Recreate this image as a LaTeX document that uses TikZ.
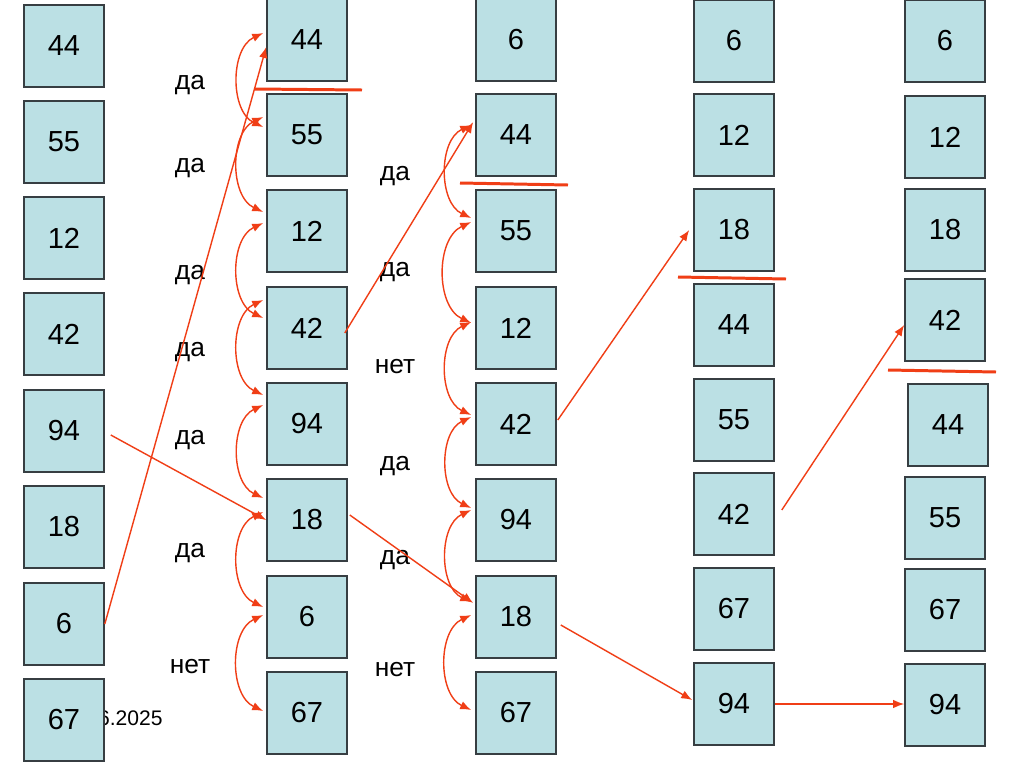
\documentclass[tikz,border=0pt]{standalone}
\usepackage{fontspec}
\setmainfont{Liberation Sans}
\usepackage{tikz}
\usetikzlibrary{arrows.meta,calc}
\definecolor{cellFill} {RGB}{187, 224, 228}
\definecolor{cellLine} {RGB}{ 55,  62,  66}
\definecolor{passRed}  {RGB}{240,  62,  22}

\begin{document}
\begin{tikzpicture}[x=0.2mm,y=-0.2mm,
    cell/.style={draw=cellLine,fill=cellFill,line width=0.9pt,inner sep=0pt,
      minimum width=1.6cm,minimum height=1.64cm,font=\fontsize{16.5}{19}\selectfont},
    answer/.style={font=\fontsize{15}{18}\selectfont},
    move/.style={passRed,line width=0.8pt,-{Latex[length=2.2mm,width=1.7mm]}},
    xchg/.style={passRed,line width=0.8pt,
      {Latex[length=2.2mm,width=1.7mm]}-{Latex[length=2.2mm,width=1.7mm]}},
    border/.style={passRed,line width=1.7pt}]
  \useasboundingbox (0,0) rectangle (1024,767);
  \fill[white] (0,0) rectangle (1024,767);

  % Datum (zum Teil hinter dem Kasten)
  \node[font=\fontsize{12}{14}\selectfont,anchor=east,inner sep=0pt] (datum)
    at (163,718) {6.2025};

  % Spalten: Wert/y
  \foreach \v/\y [count=\i] in {44/46,55/142,12/238,42/334,94/431,18/527,6/624,67/720}
    \node[cell] (a\i) at (64,\y) {\v};
  \foreach \v/\y [count=\i] in {44/40,55/135,12/231,42/328,94/424,18/520,6/617,67/713}
    \node[cell] (b\i) at (307,\y) {\v};
  \foreach \v/\y [count=\i] in {6/40,44/135,55/231,12/328,42/424,94/520,18/617,67/713}
    \node[cell] (c\i) at (516,\y) {\v};
  \foreach \v/\y [count=\i] in {6/41,12/135,18/230,44/325,55/420,42/514,67/609,94/704}
    \node[cell] (d\i) at (734,\y) {\v};
  \foreach \v/\x/\y [count=\i] in {6/945/41,12/945/137,18/945/230,42/945/320,
                                   44/948/425,55/945/518,67/945/610,94/945/705}
    \node[cell] (e\i) at (\x,\y) {\v};

  % Antworten
  \foreach \t/\y [count=\i] in {да/85,да/168,да/275,да/352,да/440,да/553,нет/667}
    \node[answer] (p\i) at (190,\y) {\t};
  \foreach \t/\y [count=\i] in {да/176,да/272,нет/367,да/466,да/560,нет/670}
    \node[answer] (q\i) at (395,\y) {\t};

  % Grenzen
  \draw[border] (255,89) -- (362,90);
  \draw[border] (460,183) -- (568,185);
  \draw[border] (678,277) -- (786,279);
  \draw[border] (888,370) -- (996,372);

  % Vergleiche (Tausch)
  \foreach \p/\q/\s/\t in {1/2/7/8,2/3/18/19,3/4/8/10,4/5/28/29,
                           5/6/19/22,6/7/8/10,7/8/2/2}
    \draw[xchg] ($(b\p.west)+(-3,-\s)$) to[bend right=65] ($(b\q.west)+(-3,-\t)$);
  \foreach \p/\q/\s/\t in {2/3/10/13,3/4/9/5,4/5/6/9,5/6/7/12,6/7/10/15,7/8/2/3}
    \draw[xchg] ($(c\p.west)+(-4,-\s)$) to[bend right=65] ($(c\q.west)+(-4,-\t)$);

  % Verschiebungen
  \draw[move] (a7.east) -- ($(b1.west)+(0,7)$);
  \draw[move] ($(a5.east)+(6,4)$) -- (b6.west);
  \draw[move] ($(b4.east)+(-3,5)$) -- ($(c2.west)+(-2,-13)$);
  \draw[move] ($(b6.east)+(2,-5)$) -- ($(c7.west)+(-2,-14)$);
  \draw[move] ($(c5.east)+(1,-4)$) -- ($(d3.west)+(-4,0)$);
  \draw[move] ($(c7.east)+(4,8)$) -- ($(d8.west)+(-1,-4)$);
  \draw[move] ($(d6.east)+(7,-4)$) -- ($(e4.west)+(0,5)$);
  \draw[move] (d8.east) -- (d8.east -| e8.west);
\end{tikzpicture}
\end{document}
